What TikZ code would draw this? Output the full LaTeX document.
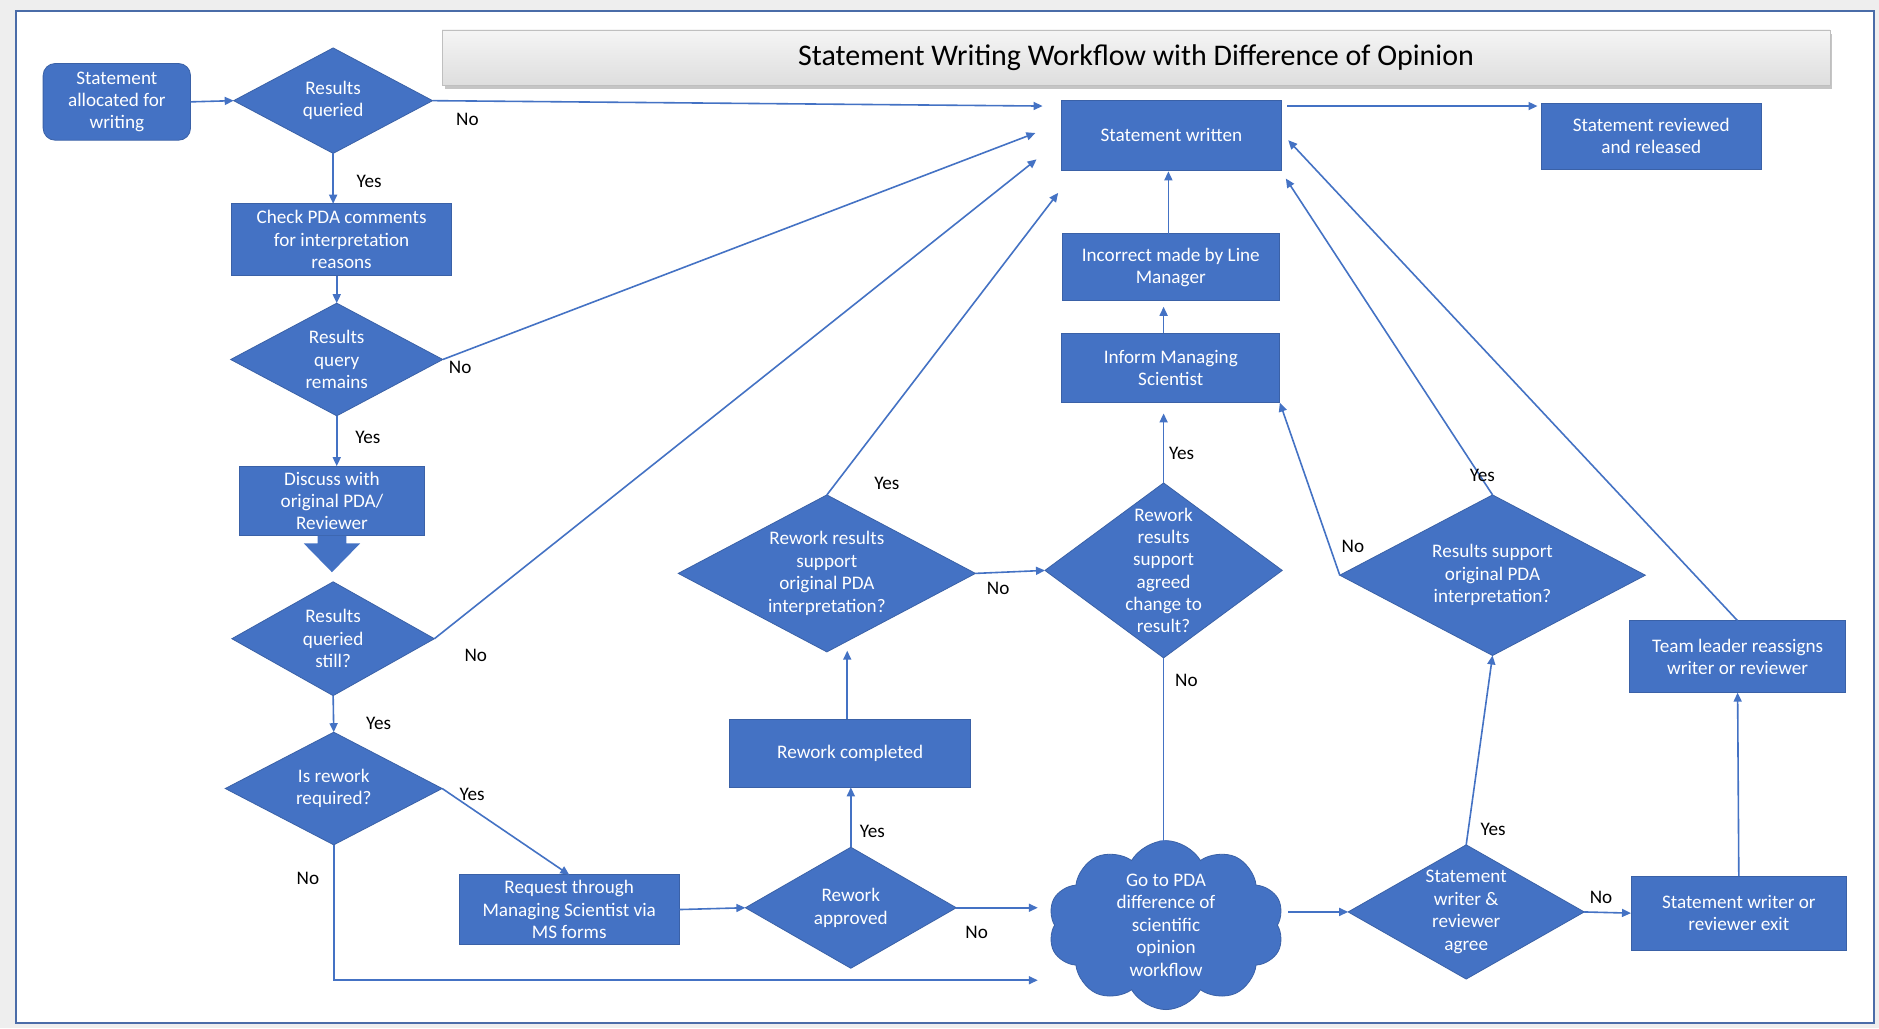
\documentclass[tikz,border=0pt]{standalone}
\usepackage{fontspec}
\setmainfont{Carlito}
\usetikzlibrary{shapes.geometric,shapes.symbols,arrows.meta,calc,shadows}
\definecolor{boxblue}{HTML}{4472C4}
\definecolor{lineblue}{HTML}{4472C4}
\definecolor{framecol}{HTML}{4A6CA8}
\definecolor{pagegray}{HTML}{EEEEEE}
\tikzset{
  fbase/.style={fill=boxblue, draw=boxblue!85!black, line width=0.4pt, text=white,
    font=\fontsize{9.6}{11.2}\selectfont, align=center, inner sep=0pt, outer sep=0pt},
  wh/.style 2 args={minimum width=#1*0.6pt, minimum height=#2*0.6pt},
  fbox/.style 2 args={fbase, rectangle, wh={#1}{#2}},
  fdia/.style n args={3}{fbase, diamond, wh={#1}{#2}, shape aspect=#3, inner sep=-6pt},
  fcloud/.style={fbase, cloud, cloud puffs=10, cloud puff arc=120, cloud ignores aspect, wh={197}{141}, inner sep=-8pt},
  farr/.style={draw=lineblue, line width=0.8pt, -{Triangle[length=4.5pt,width=4pt]}},
  flbl/.style={font=\fontsize{9.6}{11.2}\selectfont, text=black, inner sep=0pt},
}
\begin{document}
\begin{tikzpicture}[x=0.6pt,y=-0.6pt]
\useasboundingbox (0,0) rectangle (1568,858);
\fill[pagegray] (0,0) rectangle (1568,858);
\draw[framecol, line width=1pt, fill=white] (13,9) rectangle (1564,854);

% title
\node[draw=black!25, line width=0.4pt, top color=black!4, bottom color=black!13,
  minimum width=1158*0.6pt, minimum height=46*0.6pt, inner sep=0pt,
  drop shadow={shadow xshift=1.2pt, shadow yshift=-1.8pt, opacity=0.45},
  font=\fontsize{15}{17}\selectfont] (title) at (948,48) {Statement Writing Workflow with Difference of Opinion};

% nodes
\node[fbox={123}{64}, rounded corners=6pt] (alloc) at (97.5,85) {Statement\\allocated for\\writing};
\node[fdia={166}{88}{1.89}] (q1) at (278,84) {Results\\queried};
\node[fbox={184}{60}] (check) at (285,200) {Check PDA comments\\for interpretation\\reasons};
\node[fdia={177}{94}{1.88}] (q2) at (281,300) {Results\\query\\remains};
\node[fbox={154}{58}] (discuss) at (277,418) {Discuss with\\original PDA/\\Reviewer};
\node[fdia={169}{95}{1.78}] (q3) at (278,533) {Results\\queried\\still?};
\node[fdia={181}{94}{1.93}] (q4) at (278.5,658) {Is rework\\required?};
\node[fbox={184}{58}] (request) at (475,759) {Request through\\Managing Scientist via\\MS forms};
\node[fdia={176}{101}{1.74}] (approved) at (710,757.5) {Rework\\approved};
\node[fbox={201}{57}] (completed) at (709.5,628.5) {Rework completed};
\node[fdia={248}{131}{1.89}] (rr1) at (690,478.5) {Rework results\\support\\original PDA\\interpretation?};
\node[fdia={198}{146}{1.36}] (rr2) at (971,476) {Rework\\results\\support\\agreed\\change to\\result?};
\node[fbox={182}{58}] (inform) at (977,307) {Inform Managing\\Scientist};
\node[fbox={181}{56}] (incorrect) at (977,223) {Incorrect made by Line\\Manager};
\node[fbox={183}{58}] (written) at (977.5,113) {Statement written};
\node[fbox={184}{55}] (released) at (1378,113.5) {Statement reviewed\\and released};
\node[fcloud] (cloud) at (973,772) {Go to PDA\\difference of\\scientific\\opinion\\workflow};
\node[fdia={255}{134}{1.9}] (rs) at (1245.5,480) {Results support\\original PDA\\interpretation?};
\node[fdia={197}{112}{1.76}] (agree) at (1223.5,761) {Statement\\writer \&\\reviewer\\agree};
\node[fbox={180}{62}] (exit) at (1451,762) {Statement writer or\\reviewer exit};
\node[fbox={180}{60}] (team) at (1450,548) {Team leader reassigns\\writer or reviewer};

% block arrow discuss -> q3
\coordinate (ba) at (discuss.south);
\fill[boxblue] ($(ba)+(-12,0)$) -- ($(ba)+(12,0)$) -- ($(ba)+(12,6.5)$) -- ($(ba)+(23.5,6.5)$)
  -- ($(ba)+(0,30.5)$) -- ($(ba)+(-23.5,6.5)$) -- ($(ba)+(-12,6.5)$) -- cycle;

% free arrow ends
\coordinate (w1) at ($(written.west)+(-16,-24.5)$);
\coordinate (w2) at ($(written.west)+(-22,-2)$);
\coordinate (w3) at ($(written.west)+(-21,20)$);
\coordinate (w4) at ($(written.south west)+(-3,19)$);
\coordinate (e0) at ($(written.east)+(5,-24.5)$);
\coordinate (r0) at ($(released.west)+(-3,-25)$);
\coordinate (e1) at ($(written.east)+(6,4)$);
\coordinate (e2) at ($(written.south east)+(4,7)$);
\coordinate (cl) at ($(cloud.center)+(-107,0)$);
\coordinate (cin2) at ($(cloud.center)+(-107,46)$);
\coordinate (rr1in) at ($(completed.north |- rr1.south)+(-2.5,-1)$);
\coordinate (infin) at ($(rr2.north |- inform.south)+(0,9)$);
\coordinate (clin) at ($(rr2.south |- cloud.center)+(0,-63)$);
\coordinate (incin) at ($(rr2.north |- incorrect.south)+(0,5)$);
\coordinate (wrin) at ($(incorrect.north)+(-2,-52)$);
\coordinate (clout) at ($(cloud.center |- agree.west)+(102,0)$);

% connectors
\draw[farr] (alloc.east) -- (q1.west);
\draw[farr] (q1.east) -- (w1);
\draw[farr] (q1.south) -- (q1.south |- check.north);
\draw[farr] (check.south -| q2.north) -- (q2.north);
\draw[farr] (q2.east) -- (w2);
\draw[farr] (q2.south) -- (q2.south |- discuss.north);
\draw[farr] (q3.east) -- (w3);
\draw[farr] (q3.south) -- (q4.north);
\draw[farr] (q4.east) -- (request.north);
\draw[farr] (q4.south) |- (cin2);
\draw[farr] (request.east) -- (approved.west);
\draw[farr] (approved.east) -- (approved.east -| cl);
\draw[farr] (approved.north) -- (approved.north |- completed.south);
\draw[farr] (completed.north -| rr1in) -- (rr1in);
\draw[farr] (rr1.north) -- (w4);
\draw[farr] (rr1.east) -- (rr2.west);
\draw[farr] (rr2.north) -- (infin);
\draw[farr] (rr2.south) -- (clin);
\draw[farr] (inform.north -| rr2.north) -- (incin);
\draw[farr] (incorrect.north -| wrin) -- (wrin);
\draw[farr] (e0) -- (r0);
\draw[farr] (clout) -- (agree.west);
\draw[farr] (agree.east) -- (exit.west);
\draw[farr] (agree.north) -- (rs.south);
\draw[farr] (rs.north) -- (e2);
\draw[farr] (rs.west) -- (inform.south east);
\draw[farr] (exit.north) -- (team.south);
\draw[farr] (team.north) -- (e1);

% labels
\node[flbl] (l1) at (390,100) {No};
\node[flbl] (l2) at (308,151) {Yes};
\node[flbl] (l3) at (384,307) {No};
\node[flbl] (l4) at (307,365) {Yes};
\node[flbl] (l5) at (397,547) {No};
\node[flbl] (l6) at (316,604) {Yes};
\node[flbl] (l7) at (394,663) {Yes};
\node[flbl] (l8) at (257,733) {No};
\node[flbl] (l9) at (815,778) {No};
\node[flbl] (l10) at (728,694) {Yes};
\node[flbl] (l11) at (740,403) {Yes};
\node[flbl] (l12) at (833,491) {No};
\node[flbl] (l13) at (986,378) {Yes};
\node[flbl] (l14) at (990,568) {No};
\node[flbl] (l15) at (1129,456) {No};
\node[flbl] (l16) at (1237,397) {Yes};
\node[flbl] (l17) at (1246,692) {Yes};
\node[flbl] (l18) at (1336,749) {No};
\end{tikzpicture}
\end{document}
